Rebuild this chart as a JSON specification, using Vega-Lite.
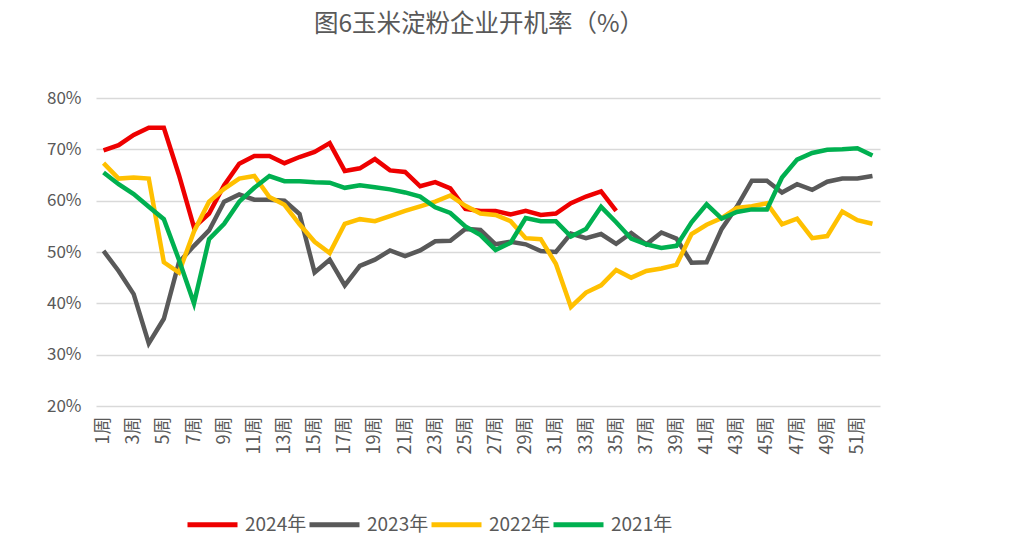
{
  "$schema": "https://vega.github.io/schema/vega-lite/v6.json",
  "width": 784,
  "height": 308,
  "autosize": {"type": "none"},
  "padding": {"left": 96, "top": 98, "right": 132, "bottom": 143},
  "background": "white",
  "title": {
    "text": "图6玉米淀粉企业开机率（%）",
    "font": "Noto Sans CJK SC",
    "fontSize": 24.5,
    "fontWeight": "normal",
    "color": "#595959",
    "anchor": "middle",
    "dx": -9,
    "offset": 52
  },
  "config": {
    "view": {"stroke": null},
    "font": "Noto Sans CJK SC"
  },
  "layer": [
    {
      "data": {"values": [
        {"w":1,"s":"2024年","v":69.8},{"w":2,"s":"2024年","v":70.8},{"w":3,"s":"2024年","v":72.8},{"w":4,"s":"2024年","v":74.2},{"w":5,"s":"2024年","v":74.2},{"w":6,"s":"2024年","v":65},{"w":7,"s":"2024年","v":54.8},{"w":8,"s":"2024年","v":57.5},{"w":9,"s":"2024年","v":63},{"w":10,"s":"2024年","v":67.2},{"w":11,"s":"2024年","v":68.7},{"w":12,"s":"2024年","v":68.7},{"w":13,"s":"2024年","v":67.3},{"w":14,"s":"2024年","v":68.5},{"w":15,"s":"2024年","v":69.5},{"w":16,"s":"2024年","v":71.2},{"w":17,"s":"2024年","v":65.8},{"w":18,"s":"2024年","v":66.3},{"w":19,"s":"2024年","v":68.1},{"w":20,"s":"2024年","v":65.9},{"w":21,"s":"2024年","v":65.6},{"w":22,"s":"2024年","v":62.8},{"w":23,"s":"2024年","v":63.6},{"w":24,"s":"2024年","v":62.4},{"w":25,"s":"2024年","v":58.4},{"w":26,"s":"2024年","v":58},{"w":27,"s":"2024年","v":58},{"w":28,"s":"2024年","v":57.3},{"w":29,"s":"2024年","v":58},{"w":30,"s":"2024年","v":57.2},{"w":31,"s":"2024年","v":57.5},{"w":32,"s":"2024年","v":59.5},{"w":33,"s":"2024年","v":60.8},{"w":34,"s":"2024年","v":61.8},{"w":35,"s":"2024年","v":58},
        {"w":1,"s":"2023年","v":50.2},{"w":2,"s":"2023年","v":46.3},{"w":3,"s":"2023年","v":41.8},{"w":4,"s":"2023年","v":32.2},{"w":5,"s":"2023年","v":37},{"w":6,"s":"2023年","v":48},{"w":7,"s":"2023年","v":51.2},{"w":8,"s":"2023年","v":54.2},{"w":9,"s":"2023年","v":59.8},{"w":10,"s":"2023年","v":61.2},{"w":11,"s":"2023年","v":60.2},{"w":12,"s":"2023年","v":60.2},{"w":13,"s":"2023年","v":60},{"w":14,"s":"2023年","v":57.4},{"w":15,"s":"2023年","v":46},{"w":16,"s":"2023年","v":48.5},{"w":17,"s":"2023年","v":43.5},{"w":18,"s":"2023年","v":47.3},{"w":19,"s":"2023年","v":48.5},{"w":20,"s":"2023年","v":50.3},{"w":21,"s":"2023年","v":49.2},{"w":22,"s":"2023年","v":50.3},{"w":23,"s":"2023年","v":52.1},{"w":24,"s":"2023年","v":52.2},{"w":25,"s":"2023年","v":54.5},{"w":26,"s":"2023年","v":54.3},{"w":27,"s":"2023年","v":51.5},{"w":28,"s":"2023年","v":52},{"w":29,"s":"2023年","v":51.5},{"w":30,"s":"2023年","v":50.2},{"w":31,"s":"2023年","v":50},{"w":32,"s":"2023年","v":53.6},{"w":33,"s":"2023年","v":52.7},{"w":34,"s":"2023年","v":53.5},{"w":35,"s":"2023年","v":51.6},{"w":36,"s":"2023年","v":53.7},{"w":37,"s":"2023年","v":51.5},{"w":38,"s":"2023年","v":53.8},{"w":39,"s":"2023年","v":52.6},{"w":40,"s":"2023年","v":47.9},{"w":41,"s":"2023年","v":48},{"w":42,"s":"2023年","v":54.5},{"w":43,"s":"2023年","v":58.8},{"w":44,"s":"2023年","v":63.9},{"w":45,"s":"2023年","v":63.9},{"w":46,"s":"2023年","v":61.6},{"w":47,"s":"2023年","v":63.2},{"w":48,"s":"2023年","v":62.1},{"w":49,"s":"2023年","v":63.7},{"w":50,"s":"2023年","v":64.3},{"w":51,"s":"2023年","v":64.3},{"w":52,"s":"2023年","v":64.8},
        {"w":1,"s":"2022年","v":67.3},{"w":2,"s":"2022年","v":64.3},{"w":3,"s":"2022年","v":64.5},{"w":4,"s":"2022年","v":64.3},{"w":5,"s":"2022年","v":48},{"w":6,"s":"2022年","v":46},{"w":7,"s":"2022年","v":54},{"w":8,"s":"2022年","v":59.8},{"w":9,"s":"2022年","v":62.3},{"w":10,"s":"2022年","v":64.3},{"w":11,"s":"2022年","v":64.8},{"w":12,"s":"2022年","v":60.7},{"w":13,"s":"2022年","v":59.2},{"w":14,"s":"2022年","v":55.4},{"w":15,"s":"2022年","v":52},{"w":16,"s":"2022年","v":49.8},{"w":17,"s":"2022年","v":55.5},{"w":18,"s":"2022年","v":56.4},{"w":19,"s":"2022年","v":56},{"w":20,"s":"2022年","v":57},{"w":21,"s":"2022年","v":58},{"w":22,"s":"2022年","v":58.9},{"w":23,"s":"2022年","v":59.8},{"w":24,"s":"2022年","v":61},{"w":25,"s":"2022年","v":59},{"w":26,"s":"2022年","v":57.5},{"w":27,"s":"2022年","v":57.2},{"w":28,"s":"2022年","v":56},{"w":29,"s":"2022年","v":52.7},{"w":30,"s":"2022年","v":52.5},{"w":31,"s":"2022年","v":47.7},{"w":32,"s":"2022年","v":39.3},{"w":33,"s":"2022年","v":42.1},{"w":34,"s":"2022年","v":43.5},{"w":35,"s":"2022年","v":46.5},{"w":36,"s":"2022年","v":45},{"w":37,"s":"2022年","v":46.3},{"w":38,"s":"2022年","v":46.8},{"w":39,"s":"2022年","v":47.5},{"w":40,"s":"2022年","v":53.5},{"w":41,"s":"2022年","v":55.3},{"w":42,"s":"2022年","v":56.6},{"w":43,"s":"2022年","v":58.6},{"w":44,"s":"2022年","v":58.9},{"w":45,"s":"2022年","v":59.5},{"w":46,"s":"2022年","v":55.4},{"w":47,"s":"2022年","v":56.5},{"w":48,"s":"2022年","v":52.7},{"w":49,"s":"2022年","v":53.1},{"w":50,"s":"2022年","v":57.9},{"w":51,"s":"2022年","v":56.2},{"w":52,"s":"2022年","v":55.5},
        {"w":1,"s":"2021年","v":65.5},{"w":2,"s":"2021年","v":63.2},{"w":3,"s":"2021年","v":61.3},{"w":4,"s":"2021年","v":58.8},{"w":5,"s":"2021年","v":56.4},{"w":6,"s":"2021年","v":48.5},{"w":7,"s":"2021年","v":40},{"w":8,"s":"2021年","v":52.5},{"w":9,"s":"2021年","v":55.5},{"w":10,"s":"2021年","v":59.8},{"w":11,"s":"2021年","v":62.5},{"w":12,"s":"2021年","v":64.8},{"w":13,"s":"2021年","v":63.8},{"w":14,"s":"2021年","v":63.8},{"w":15,"s":"2021年","v":63.6},{"w":16,"s":"2021年","v":63.5},{"w":17,"s":"2021年","v":62.5},{"w":18,"s":"2021年","v":63},{"w":19,"s":"2021年","v":62.6},{"w":20,"s":"2021年","v":62.2},{"w":21,"s":"2021年","v":61.6},{"w":22,"s":"2021年","v":60.8},{"w":23,"s":"2021年","v":58.7},{"w":24,"s":"2021年","v":57.6},{"w":25,"s":"2021年","v":55},{"w":26,"s":"2021年","v":53.3},{"w":27,"s":"2021年","v":50.4},{"w":28,"s":"2021年","v":51.8},{"w":29,"s":"2021年","v":56.6},{"w":30,"s":"2021年","v":56},{"w":31,"s":"2021年","v":56},{"w":32,"s":"2021年","v":53},{"w":33,"s":"2021年","v":54.5},{"w":34,"s":"2021年","v":58.8},{"w":35,"s":"2021年","v":55.8},{"w":36,"s":"2021年","v":52.6},{"w":37,"s":"2021年","v":51.5},{"w":38,"s":"2021年","v":50.8},{"w":39,"s":"2021年","v":51.2},{"w":40,"s":"2021年","v":55.8},{"w":41,"s":"2021年","v":59.3},{"w":42,"s":"2021年","v":56.5},{"w":43,"s":"2021年","v":57.8},{"w":44,"s":"2021年","v":58.3},{"w":45,"s":"2021年","v":58.3},{"w":46,"s":"2021年","v":64.5},{"w":47,"s":"2021年","v":68},{"w":48,"s":"2021年","v":69.3},{"w":49,"s":"2021年","v":69.9},{"w":50,"s":"2021年","v":70},{"w":51,"s":"2021年","v":70.2},{"w":52,"s":"2021年","v":68.8}
      ]},
      "mark": {"type": "line", "strokeWidth": 4.5, "strokeJoin": "miter", "strokeCap": "butt"},
      "encoding": {
        "x": {
          "field": "w",
          "type": "quantitative",
          "scale": {"domain": [0.5, 52.5], "nice": false, "zero": false},
          "axis": {
            "values": [1,3,5,7,9,11,13,15,17,19,21,23,25,27,29,31,33,35,37,39,41,43,45,47,49,51],
            "labelExpr": "datum.value + '周'",
            "labelAngle": 270,
            "labelAlign": "right",
            "labelBaseline": "middle",
            "labelFontSize": 18,
            "labelColor": "#595959",
            "labelPadding": 10,
            "labelFont": "Noto Sans CJK SC",
            "ticks": false,
            "domain": false,
            "grid": false,
            "title": null,
            "labelOverlap": false
          }
        },
        "y": {
          "field": "v",
          "type": "quantitative",
          "scale": {"domain": [20, 80], "nice": false, "zero": false},
          "axis": {
            "values": [20,30,40,50,60,70,80],
            "labelExpr": "datum.value + '%'",
            "labelFontSize": 17,
            "labelColor": "#595959",
            "labelPadding": 15,
            "labelFont": "Noto Sans CJK SC",
            "ticks": false,
            "domain": false,
            "grid": true,
            "gridColor": "#d9d9d9",
            "gridWidth": 1.5,
            "title": null
          }
        },
        "color": {
          "field": "s",
          "type": "nominal",
          "sort": ["2024年","2023年","2022年","2021年"],
          "scale": {"domain": ["2024年","2023年","2022年","2021年"], "range": ["#ee0000","#595959","#ffc000","#00b050"]},
          "legend": {
            "title": null,
            "orient": "none",
            "direction": "horizontal",
            "legendX": 89,
            "legendY": 399,
            "symbolType": "stroke",
            "symbolSize": 2500,
            "symbolStrokeWidth": 5,
            "labelFontSize": 19,
            "labelColor": "#595959",
            "labelFont": "Noto Sans CJK SC",
            "labelOffset": 5,
            "columnPadding": -9
          }
        },
        "order": {"field": "w", "type": "quantitative"}
      }
    }
  ]
}
